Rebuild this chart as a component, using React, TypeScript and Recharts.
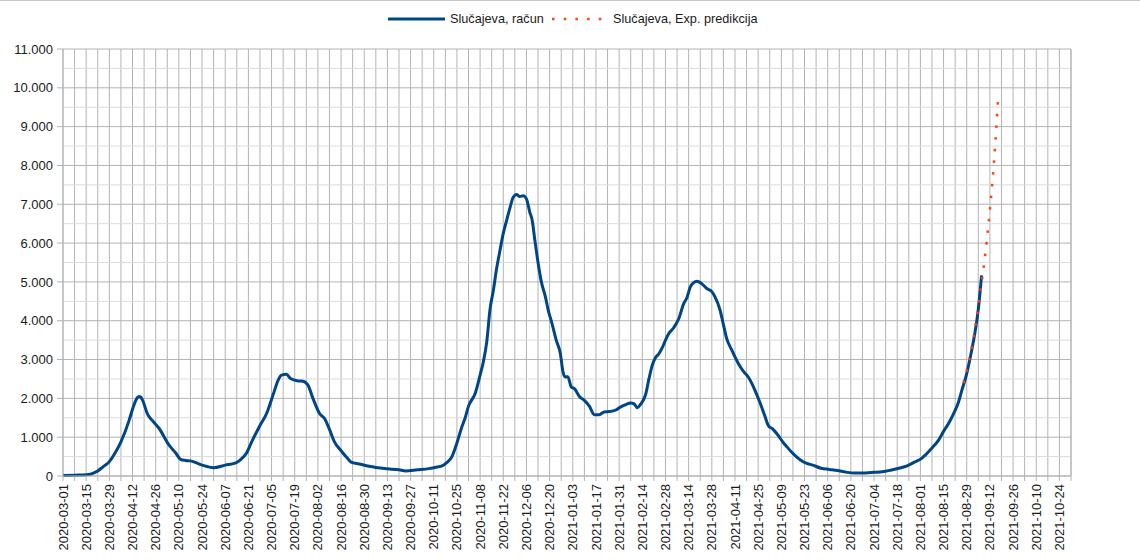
import React from 'react';
import { LineChart, Line, XAxis, YAxis, CartesianGrid, ReferenceLine } from 'recharts';

// days are counted from 2020-03-01
const START = Date.UTC(2020, 2, 1);
const DAY = 86400000;

const CASE_DAYS = [
  0, 7, 14, 18, 21, 24, 28, 31, 35, 40, 42, 44, 45, 46, 47, 48, 51, 55, 58, 64, 68, 71,
  74, 77, 84, 91, 98, 104, 107, 111, 114, 119, 123, 127, 130, 132, 135, 137.5, 142, 145, 148, 151,
  155, 158, 161, 164, 168, 172, 174, 179, 185, 189, 196, 203, 207, 214, 221, 226, 229, 232, 235, 238,
  241, 243, 245, 249, 252, 254, 256, 258, 260, 262, 264, 266, 268, 270, 272, 274, 276, 278, 280, 282,
  283.5, 285, 287, 289, 291.5, 293, 295.5, 298, 300.5, 302, 303.5, 305, 307, 309, 312, 315, 318, 321, 324, 327,
  330, 334, 337, 340, 343, 345, 347, 349, 352, 354, 356, 358, 360, 362, 364, 366, 369, 372, 375, 377,
  379, 381, 383, 386, 389, 392, 394, 397, 399, 401, 404, 408, 411, 414, 416, 418, 421, 424, 426, 429,
  432, 435, 438, 440, 443, 446, 449, 453, 458, 463, 468, 473, 478, 485, 490, 495, 500, 505, 510, 515,
  518, 521, 525, 529, 532, 535, 538, 541, 543, 546, 549, 551, 553, 555,
];
const CASE_VALUES = [
  10, 20, 30, 70, 130, 230, 370, 560, 880, 1440, 1720, 1950, 2020, 2050, 2030, 1960, 1600, 1380, 1230, 800, 600, 430,
  400, 390, 280, 215, 280, 330, 410, 600, 880, 1300, 1610, 2100, 2470, 2600, 2620, 2510, 2450, 2440, 2340, 2000,
  1610, 1480, 1200, 880, 650, 450, 360, 310, 250, 220, 185, 160, 130, 160, 190, 230, 260, 350, 500, 850,
  1270, 1500, 1800, 2125, 2600, 2950, 3450, 4300, 4780, 5350, 5810, 6250, 6580, 6900, 7180, 7250, 7200, 7220, 7140, 6800,
  6580, 6100, 5500, 5000, 4610, 4300, 3920, 3500, 3150, 2700, 2550, 2560, 2300, 2250, 2050, 1950, 1800, 1580, 1580, 1650,
  1660, 1700, 1780, 1840, 1880, 1860, 1760, 1850, 2100, 2500, 2850, 3050, 3150, 3300, 3500, 3670, 3820, 4050, 4440, 4600,
  4870, 4980, 5020, 4950, 4830, 4750, 4610, 4270, 3900, 3540, 3250, 2900, 2700, 2550, 2400, 2210, 1900, 1550, 1310, 1200,
  1050, 870, 720, 625, 500, 400, 330, 280, 200, 170, 140, 100, 75, 80, 95, 110, 150, 200, 260, 370,
  430, 540, 720, 925, 1150, 1350, 1600, 1900, 2200, 2640, 3240, 3700, 4300, 5170,
];

const PRED_DAYS = [544, 545, 546, 547, 548, 549, 550, 551, 552, 553, 554, 555, 556, 557, 558, 559, 560, 561, 562, 563, 564, 565];
const PRED_VALUES = [2400, 2560, 2720, 2900, 3100, 3320, 3550, 3800, 4070, 4360, 4660, 4980, 5300, 5650, 6020, 6420, 6850, 7320, 7830, 8400, 9050, 9760];

const Y_TICKS = [0, 1000, 2000, 3000, 4000, 5000, 6000, 7000, 8000, 9000, 10000, 11000];
const Y_MINOR = [500, 1500, 2500, 3500, 4500, 5500, 6500, 7500, 8500, 9500, 10500];
const X_END = 609; // 2021-10-31
const X_TICKS = Array.from({ length: X_END / 7 + 1 }, (_, i) => i * 7);

const caseData = CASE_DAYS.map((d, i) => ({ d, v: CASE_VALUES[i] }));
const predData = PRED_DAYS.map((d, i) => ({ d, v: PRED_VALUES[i] }));

const FONT = '"Liberation Sans", Arial, sans-serif';
const GRID = '#b3b3b3';
const BLUE = '#004586';
const ORANGE = '#ff420e';

function fmtThousands(v: number) {
  return String(v).replace(/\B(?=(\d{3})+(?!\d))/g, '.');
}

function dateLabel(d: number) {
  return new Date(START + d * DAY).toISOString().slice(0, 10);
}

function XTick(props: any) {
  const { x, y, payload, index } = props;
  if (index % 2 === 1) return null;
  return (
    <text
      x={x}
      y={y}
      transform={`rotate(-90 ${x} ${y})`}
      textAnchor="end"
      dy="0.35em"
      fontSize={13}
      fontFamily={FONT}
      fill="#1a1a1a"
    >
      {dateLabel(payload.value)}
    </text>
  );
}

export default function App() {
  return (
    <div style={{ position: 'absolute', left: 0, top: 0, width: 1140, height: 560, background: '#fff' }}>
      <div style={{ position: 'absolute', left: 0, top: 0, width: 1140, height: 1, background: '#c6c6c6' }} />

      <div style={{ position: 'absolute', top: 11, left: 0, fontFamily: FONT, fontSize: 12.7, color: '#1a1a1a', lineHeight: '16px' }}>
        <svg style={{ position: 'absolute', left: 388, top: 0 }} width={57} height={16}>
          <line x1={0} y1={8} x2={57} y2={8} stroke={BLUE} strokeWidth={3} />
        </svg>
        <span style={{ position: 'absolute', left: 450, top: 0, whiteSpace: 'nowrap' }}>Slučajeva, račun</span>
        <svg style={{ position: 'absolute', left: 552, top: 0 }} width={52} height={16}>
          <line x1={0} y1={8} x2={52} y2={8} stroke={ORANGE} strokeWidth={2.5} strokeDasharray="2.5 9.2" />
        </svg>
        <span style={{ position: 'absolute', left: 613, top: 0, whiteSpace: 'nowrap' }}>Slučajeva, Exp. predikcija</span>
      </div>

      <LineChart width={1140} height={560} margin={{ top: 49, right: 8, bottom: 6, left: 8 }}>
        <CartesianGrid stroke={GRID} yAxisId="left" />
        {Y_MINOR.map((v) => (
          <ReferenceLine key={v} y={v} yAxisId="left" stroke="#dcdcdc" />
        ))}
        <XAxis
          type="number"
          dataKey="d"
          domain={[0, X_END]}
          ticks={X_TICKS}
          interval={0}
          allowDataOverflow
          height={78}
          tickSize={5}
          tickMargin={3}
          stroke={GRID}
          tick={<XTick />}
        />
        <YAxis
          yAxisId="left"
          domain={[0, 11000]}
          ticks={Y_TICKS}
          width={55}
          tickSize={6}
          tickMargin={4}
          stroke={GRID}
          tickFormatter={fmtThousands}
          tick={{ fontSize: 13, fontFamily: FONT, fill: '#1a1a1a' }}
        />
        <YAxis
          yAxisId="right"
          orientation="right"
          domain={[0, 11000]}
          ticks={Y_TICKS}
          width={61}
          tickSize={6}
          tickMargin={3}
          stroke={GRID}
          tickFormatter={fmtThousands}
          tick={{ fontSize: 13, fontFamily: FONT, fill: '#1a1a1a', textAnchor: 'start' }}
        />
        <Line
          yAxisId="left"
          data={caseData}
          dataKey="v"
          type="monotone"
          stroke={BLUE}
          strokeWidth={3}
          dot={false}
          isAnimationActive={false}
        />
        <Line
          yAxisId="left"
          data={predData}
          dataKey="v"
          type="monotone"
          stroke={ORANGE}
          strokeWidth={2.5}
          strokeDasharray="2.5 9.2"
          dot={false}
          isAnimationActive={false}
        />
      </LineChart>
    </div>
  );
}
